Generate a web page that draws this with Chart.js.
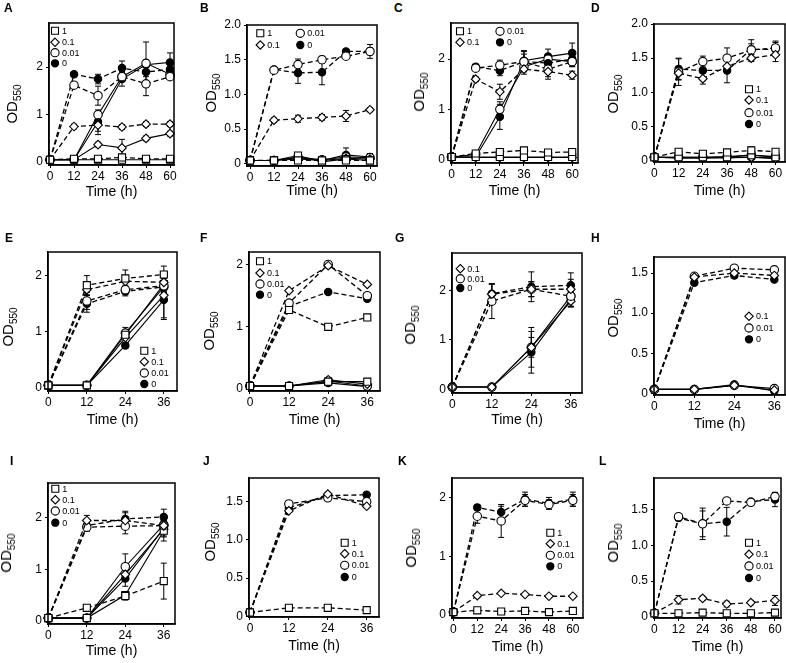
<!DOCTYPE html>
<html>
<head>
<meta charset="utf-8">
<script src="https://cdn.jsdelivr.net/npm/chart.js@4.4.1/dist/chart.umd.min.js"></script>
<style>
html, body { margin: 0; padding: 0; background: #fff; overflow: hidden; }
body { width: 786px; height: 663px; position: relative; font-family: "Liberation Sans", Arial, sans-serif; color: #000; }
canvas { position: absolute; }
.letter { position: absolute; font-weight: bold; font-size: 12px; transform: translateY(-50%); }
.ytitle { position: absolute; font-size: 15px; white-space: nowrap; transform: translate(-50%, -50%) rotate(-90deg); }
.ytitle sub { font-size: 10px; }
.xtitle { position: absolute; font-size: 14px; white-space: nowrap; transform: translate(-50%, -50%); }
</style>
</head>
<body>
<script>
// concentrations, in legend order: square, diamond, open circle, filled circle
const legendLabels = ["1", "0.1", "0.01", "0"];
const time60 = [0, 12, 24, 36, 48, 60];
const time36 = [0, 12, 24, 36];

// A
const aDashed = [
    [0.05, 0.07, 0.07, 0.10, 0.07, 0.07],
    [0.05, 0.75, 0.78, 0.74, 0.80, 0.80],
    [0.05, 1.62, 1.40, 1.80, 1.65, 1.80],
    [0.05, 1.85, 1.75, 1.98, 1.90, 1.95]
];
const aDashedErr = [
    [0, 0.02, 0.02, 0.05, 0.02, 0.02],
    [0, 0.05, 0.20, 0.05, 0.05, 0.05],
    [0, 0.05, 0.20, 0.10, 0.25, 0.05],
    [0, 0.05, 0.10, 0.15, 0.10, 0.10]
];
const aSolid = [
    [0.05, 0.05, 0.05, 0.05, 0.05, 0.05],
    [0.05, 0.05, 0.37, 0.30, 0.50, 0.60],
    [0.05, 0.05, 1.00, 1.80, 2.08, 1.85],
    [0.05, 0.05, 0.85, 1.75, 2.05, 2.10]
];
const aSolidErr = [
    [0, 0, 0, 0, 0, 0],
    [0, 0, 0.05, 0.18, 0.05, 0.05],
    [0, 0, 0.10, 0.10, 0.45, 0.10],
    [0, 0, 0.20, 0.15, 0.10, 0.20]
];

// B
const bDashed = [
    [0.05, 0.05, 0.05, 0.05, 0.05, 0.05],
    [0.05, 0.63, 0.65, 0.67, 0.69, 0.78],
    [0.05, 1.35, 1.43, 1.50, 1.55, 1.62],
    [0.05, 1.36, 1.31, 1.32, 1.62, 1.62]
];
const bDashedErr = [
    [0, 0.01, 0.01, 0.01, 0.01, 0.01],
    [0, 0.03, 0.05, 0.04, 0.08, 0.03],
    [0, 0.03, 0.08, 0.05, 0.03, 0.05],
    [0, 0.03, 0.15, 0.18, 0.03, 0.10]
];
const bSolid = [
    [0.05, 0.05, 0.12, 0.03, 0.07, 0.05],
    [0.05, 0.05, 0.07, 0.05, 0.08, 0.07],
    [0.05, 0.05, 0.10, 0.06, 0.10, 0.09],
    [0.05, 0.05, 0.09, 0.05, 0.13, 0.10]
];
const bSolidErr = [
    [0, 0.02, 0.03, 0.02, 0.04, 0.02],
    [0, 0, 0.02, 0.02, 0.03, 0.02],
    [0, 0, 0.02, 0.02, 0.04, 0.03],
    [0, 0, 0.03, 0.02, 0.10, 0.05]
];

// C
const cDashed = [
    [0.05, 0.12, 0.15, 0.18, 0.14, 0.15],
    [0.05, 1.60, 1.35, 1.80, 1.75, 1.68],
    [0.05, 1.82, 1.88, 1.95, 1.80, 1.95],
    [0.05, 1.85, 1.77, 1.95, 1.92, 2.00]
];
const cDashedErr = [
    [0, 0.02, 0.02, 0.03, 0.02, 0.02],
    [0, 0.05, 0.15, 0.10, 0.15, 0.08],
    [0, 0.05, 0.10, 0.20, 0.15, 0.10],
    [0, 0.05, 0.10, 0.15, 0.15, 0.10]
];
const cSolid = [
    [0.05, 0.05, 0.05, 0.05, 0.05, 0.05],
    [0.05, 0.04, 0.04, 0.04, 0.04, 0.04],
    [0.05, 0.10, 1.00, 1.85, 2.00, 1.95],
    [0.05, 0.05, 0.85, 1.97, 2.05, 2.12]
];
const cSolidErr = [
    [0, 0, 0, 0, 0, 0],
    [0, 0, 0, 0, 0, 0],
    [0, 0, 0.15, 0.10, 0.10, 0.10],
    [0, 0, 0.25, 0.20, 0.15, 0.20]
];

// D
const dDashed = [
    [0.05, 0.13, 0.10, 0.12, 0.15, 0.13],
    [0.05, 1.28, 1.20, 1.38, 1.50, 1.55],
    [0.05, 1.30, 1.45, 1.50, 1.62, 1.65],
    [0.05, 1.34, 1.32, 1.32, 1.63, 1.63]
];
const dDashedErr = [
    [0, 0.02, 0.02, 0.03, 0.05, 0.03],
    [0, 0.10, 0.08, 0.10, 0.05, 0.10],
    [0, 0.20, 0.08, 0.15, 0.15, 0.10],
    [0, 0.15, 0.15, 0.18, 0.08, 0.10]
];
const dSolid = [
    [0.05, 0.05, 0.05, 0.05, 0.08, 0.05],
    [0.05, 0.04, 0.04, 0.05, 0.05, 0.03],
    [0.05, 0.05, 0.05, 0.06, 0.08, 0.06],
    [0.05, 0.04, 0.04, 0.04, 0.05, 0.04]
];
const dSolidErr = [
    [0, 0.02, 0.02, 0.02, 0.04, 0.02],
    [0, 0, 0, 0, 0.02, 0],
    [0, 0, 0, 0.02, 0.03, 0.02],
    [0, 0, 0, 0, 0.02, 0]
];

// E
const eDashed = [
    [0.05, 1.83, 1.95, 2.02],
    [0.05, 1.75, 1.90, 1.88],
    [0.05, 1.55, 1.75, 1.82],
    [0.05, 1.50, 1.72, 1.80]
];
const eDashedErr = [
    [0, 0.17, 0.15, 0.15],
    [0, 0.10, 0.10, 0.10],
    [0, 0.15, 0.08, 0.08],
    [0, 0.15, 0.08, 0.08]
];
const eSolid = [
    [0.05, 0.05, 0.95, 1.85],
    [0.05, 0.05, 0.90, 1.65],
    [0.05, 0.05, 0.98, 1.80],
    [0.05, 0.05, 0.76, 1.57]
];
const eSolidErr = [
    [0, 0, 0.05, 0.10],
    [0, 0, 0.10, 0.40],
    [0, 0, 0.10, 0.10],
    [0, 0, 0.05, 0.35]
];

// F
const fDashed = [
    [0.05, 1.27, 1.00, 1.15],
    [0.05, 1.58, 1.98, 1.68],
    [0.05, 1.38, 2.00, 1.50],
    [0.05, 1.33, 1.56, 1.45]
];
const fDashedErr = [
    [0, 0.03, 0.02, 0.02],
    [0, 0.02, 0.02, 0.02],
    [0, 0.03, 0.02, 0.02],
    [0, 0.03, 0.02, 0.02]
];
const fSolid = [
    [0.05, 0.05, 0.12, 0.12],
    [0.05, 0.05, 0.15, 0.08],
    [0.05, 0.05, 0.13, 0.05],
    [0.05, 0.05, 0.10, 0.04]
];
const fSolidErr = [
    [0, 0, 0.03, 0.02],
    [0, 0, 0.03, 0.02],
    [0, 0, 0.03, 0.02],
    [0, 0, 0.03, 0.02]
];

// G (no square series)
const gDashed = [
    null,
    [0.05, 1.92, 2.02, 2.02],
    [0.05, 1.78, 2.02, 1.88],
    [0.05, 1.93, 2.07, 2.10]
];
const gDashedErr = [
    null,
    [0, 0.20, 0.15, 0.20],
    [0, 0.35, 0.15, 0.20],
    [0, 0.20, 0.30, 0.25]
];
const gSolid = [
    null,
    [0.05, 0.05, 0.85, 1.78],
    [0.05, 0.05, 0.85, 1.88],
    [0.05, 0.05, 0.75, 1.82]
];
const gSolidErr = [
    null,
    [0, 0, 0.40, 0.12],
    [0, 0, 0.20, 0.10],
    [0, 0, 0.42, 0.15]
];

// H (no square series)
const hDashed = [
    null,
    [0.05, 1.45, 1.50, 1.47],
    [0.05, 1.46, 1.56, 1.54],
    [0.05, 1.38, 1.47, 1.42]
];
const hDashedErr = [
    null,
    [0, 0.02, 0.03, 0.02],
    [0, 0.02, 0.02, 0.02],
    [0, 0.02, 0.03, 0.02]
];
const hSolid = [
    null,
    [0.05, 0.05, 0.10, 0.04],
    [0.05, 0.05, 0.10, 0.06],
    [0.05, 0.05, 0.11, 0.03]
];
const hSolidErr = [
    null,
    [0, 0, 0.02, 0.01],
    [0, 0, 0.02, 0.01],
    [0, 0, 0.02, 0.01]
];

// I
const iDashed = [
    [0.05, 0.25, 0.48, 0.77],
    [0.05, 1.95, 1.95, 1.85],
    [0.05, 1.82, 1.84, 1.85],
    [0.05, 1.85, 1.98, 2.02]
];
const iDashedErr = [
    [0, 0.03, 0.08, 0.35],
    [0, 0.10, 0.15, 0.10],
    [0, 0.08, 0.15, 0.20],
    [0, 0.10, 0.15, 0.15]
];
const iSolid = [
    [0.05, 0.05, 0.50, 1.75],
    [0.05, 0.05, 0.90, 1.78],
    [0.05, 0.05, 1.05, 1.87],
    [0.05, 0.05, 0.82, 1.80]
];
const iSolidErr = [
    [0, 0, 0.05, 0.20],
    [0, 0, 0.10, 0.15],
    [0, 0, 0.25, 0.10],
    [0, 0, 0.15, 0.10]
];

// J
const jDashed = [
    [0.05, 0.11, 0.11, 0.08],
    [0.05, 1.38, 1.60, 1.44],
    [0.05, 1.47, 1.55, 1.50],
    [0.05, 1.42, 1.58, 1.59]
];
const jDashedErr = [
    [0, 0.01, 0.01, 0.01],
    [0, 0.02, 0.02, 0.02],
    [0, 0.02, 0.02, 0.02],
    [0, 0.02, 0.02, 0.02]
];

// K
const kDashed = [
    [0.05, 0.08, 0.06, 0.07, 0.05, 0.07],
    [0.05, 0.33, 0.37, 0.35, 0.32, 0.32],
    [0.05, 1.68, 1.60, 1.95, 1.88, 1.95],
    [0.05, 1.83, 1.75, 1.97, 1.90, 1.97]
];
const kDashedErr = [
    [0, 0.01, 0.01, 0.01, 0.01, 0.01],
    [0, 0.02, 0.02, 0.02, 0.02, 0.02],
    [0, 0.12, 0.28, 0.10, 0.08, 0.10],
    [0, 0.05, 0.10, 0.12, 0.10, 0.12]
];

// L
const lDashed = [
    [0.05, 0.05, 0.06, 0.05, 0.05, 0.06],
    [0.05, 0.24, 0.26, 0.18, 0.20, 0.23],
    [0.05, 1.40, 1.30, 1.62, 1.60, 1.68],
    [0.05, 1.38, 1.30, 1.33, 1.61, 1.64]
];
const lDashedErr = [
    [0, 0.01, 0.01, 0.01, 0.01, 0.01],
    [0, 0.06, 0.03, 0.04, 0.03, 0.07],
    [0, 0.02, 0.22, 0.03, 0.03, 0.05],
    [0, 0.02, 0.18, 0.20, 0.03, 0.10]
];

// marker look for each concentration
const styles = [
    { style: "rect", r: 5, fill: "#fff" },
    { style: "rectRot", r: 4.3, fill: "#fff" },
    { style: "circle", r: 4.2, fill: "#fff" },
    { style: "circle", r: 3.7, fill: "#000" }
];

function drawMarker(ctx, k, x, y) {
    ctx.beginPath();
    if (k === 0) {
        ctx.rect(x - 3.5, y - 3.5, 7, 7);
    } else if (k === 1) {
        ctx.moveTo(x, y - 4.2); ctx.lineTo(x + 4.2, y); ctx.lineTo(x, y + 4.2); ctx.lineTo(x - 4.2, y);
        ctx.closePath();
    } else {
        ctx.arc(x, y, k === 3 ? 3.6 : 4.1, 0, Math.PI * 2);
    }
    ctx.fillStyle = k === 3 ? "#000" : "#fff";
    ctx.fill();
    ctx.lineWidth = 1.1;
    ctx.strokeStyle = "#000";
    ctx.stroke();
}

const errorBars = {
    id: "errorBars",
    beforeDatasetsDraw(chart) {
        const ctx = chart.ctx;
        const xs = chart.scales.x, ys = chart.scales.y;
        ctx.save();
        ctx.strokeStyle = "#000";
        ctx.lineWidth = 1;
        chart.data.datasets.forEach(ds => {
            if (!ds.err) return;
            ds.data.forEach((p, j) => {
                const e = ds.err[j];
                if (!e) return;
                const x = xs.getPixelForValue(p.x);
                const y1 = ys.getPixelForValue(p.y - e);
                const y2 = ys.getPixelForValue(p.y + e);
                ctx.beginPath();
                ctx.moveTo(x, y1); ctx.lineTo(x, y2);
                ctx.moveTo(x - 3, y1); ctx.lineTo(x + 3, y1);
                ctx.moveTo(x - 3, y2); ctx.lineTo(x + 3, y2);
                ctx.stroke();
            });
        });
        ctx.restore();
    }
};

const frameAndLegend = {
    id: "frameAndLegend",
    afterDraw(chart) {
        const ctx = chart.ctx;
        const a = chart.chartArea;
        ctx.save();
        ctx.strokeStyle = "#000";
        ctx.lineWidth = 1.5;
        ctx.strokeRect(a.left, a.top, a.right - a.left, a.bottom - a.top);
        const lg = chart.options.plugins.frameAndLegend.items;
        ctx.font = "9px 'Liberation Sans', Arial, sans-serif";
        ctx.textBaseline = "middle";
        lg.forEach(it => {
            const x = a.left + it[1], y = a.top + it[2];
            drawMarker(ctx, it[0], x, y);
            ctx.fillStyle = "#000";
            ctx.fillText(legendLabels[it[0]], x + 7, y + 0.5);
        });
        ctx.restore();
    }
};

function buildSets(times, rows, errs, dashed) {
    const sets = [];
    if (!rows) return sets;
    rows.forEach((vals, k) => {
        if (!vals) return;
        sets.push({
            data: vals.map((v, j) => ({ x: times[j], y: v })),
            err: errs ? errs[k] : null,
            borderColor: "#000",
            borderWidth: dashed ? 1.3 : 1.1,
            borderDash: dashed ? [5, 3] : [],
            pointStyle: styles[k].style,
            pointRadius: styles[k].r,
            pointHoverRadius: styles[k].r,
            pointBackgroundColor: styles[k].fill,
            pointBorderColor: "#000",
            pointBorderWidth: 1.1,
            tension: 0,
            fill: false,
            clip: false
        });
    });
    return sets;
}

const AXW = 45, AXH = 30, PADT = 12, PADR = 15;

function makePanel(p) {
    const w = p.box[2] - p.box[0], h = p.box[3] - p.box[1];
    const canvas = document.createElement("canvas");
    canvas.width = w + AXW + PADR;
    canvas.height = h + AXH + PADT;
    canvas.style.left = (p.box[0] - AXW) + "px";
    canvas.style.top = (p.box[1] - PADT) + "px";
    document.body.appendChild(canvas);

    const letter = document.createElement("div");
    letter.className = "letter";
    letter.textContent = p.name;
    letter.style.left = p.letter[0] + "px";
    letter.style.top = p.letter[1] + "px";
    document.body.appendChild(letter);

    const yt = document.createElement("div");
    yt.className = "ytitle";
    yt.innerHTML = "OD<sub>550</sub>";
    yt.style.left = p.ytitle[0] + "px";
    yt.style.top = p.ytitle[1] + "px";
    document.body.appendChild(yt);

    const xt = document.createElement("div");
    xt.className = "xtitle";
    xt.textContent = "Time (h)";
    xt.style.left = (p.box[0] + w / 2) + "px";
    xt.style.top = (p.box[3] + p.xtitleDy) + "px";
    document.body.appendChild(xt);

    const datasets = buildSets(p.times, p.dashed, p.dashedErr, true)
        .concat(buildSets(p.times, p.solid, p.solidErr, false));

    const tickFont = { family: "'Liberation Sans', Arial, sans-serif", size: 12 };

    new Chart(canvas.getContext("2d"), {
        type: "line",
        data: { datasets: datasets },
        options: {
            responsive: false,
            animation: false,
            events: [],
            layout: { padding: { top: PADT, right: PADR, left: 0, bottom: 0 } },
            plugins: {
                legend: { display: false },
                tooltip: { enabled: false },
                frameAndLegend: { items: p.legend }
            },
            scales: {
                x: {
                    type: "linear",
                    min: p.xr[0], max: p.xr[1],
                    afterFit: s => { s.height = AXH; },
                    ticks: { stepSize: 12, includeBounds: false, color: "#000", font: tickFont, padding: 1, maxRotation: 0, autoSkip: false },
                    grid: { drawOnChartArea: false, drawTicks: true, tickLength: 3, color: "#000" },
                    border: { display: true, color: "#000", width: 1.5 }
                },
                y: {
                    type: "linear",
                    min: p.yr[0], max: p.yr[1],
                    afterFit: s => { s.width = AXW; },
                    ticks: {
                        stepSize: p.ystep, includeBounds: false, color: "#000", font: tickFont, padding: 3,
                        callback: v => (p.ystep < 1 ? (v === 0 ? "0" : v.toFixed(1)) : String(v))
                    },
                    grid: { drawOnChartArea: false, drawTicks: true, tickLength: 3, color: "#000" },
                    border: { display: true, color: "#000", width: 1.5 }
                }
            }
        },
        plugins: [errorBars, frameAndLegend]
    });
}

const panels = [
    { name: "A", letter: [4, 8], box: [49, 23, 174, 165], xr: [-0.5, 62], yr: [-0.06, 2.93], ystep: 1, times: time60,
      dashed: aDashed, dashedErr: aDashedErr, solid: aSolid, solidErr: aSolidErr, ytitle: [13, 104], xtitleDy: 26,
      legend: [[0, 6, 7.7], [1, 6, 19.3], [2, 6, 29.7], [3, 6, 40.3]] },
    { name: "B", letter: [200, 8], box: [247, 25, 377, 166], xr: [-1.5, 63.5], yr: [-0.03, 2.0], ystep: 0.5, times: time60,
      dashed: bDashed, dashedErr: bDashedErr, solid: bSolid, solidErr: bSolidErr, ytitle: [212, 93], xtitleDy: 24,
      legend: [[0, 13.3, 8.3], [1, 13.3, 20], [2, 53.3, 8.3], [3, 53.3, 20]] },
    { name: "C", letter: [394, 8], box: [451, 23, 578, 163], xr: [-0.3, 62.9], yr: [-0.07, 2.72], ystep: 1, times: time60,
      dashed: cDashed, dashedErr: cDashedErr, solid: cSolid, solidErr: cSolidErr, ytitle: [420, 92], xtitleDy: 27,
      legend: [[0, 9, 8.3], [1, 9, 19.3], [2, 49, 8.3], [3, 49, 19.3]] },
    { name: "D", letter: [591, 8], box: [654, 24, 785, 162], xr: [-0.2, 64.7], yr: [-0.02, 2.0], ystep: 0.5, times: time60,
      dashed: dDashed, dashedErr: dDashedErr, solid: dSolid, solidErr: dSolidErr, ytitle: [614, 94], xtitleDy: 28,
      legend: [[0, 95, 65.3], [1, 95, 76], [2, 95, 88.7], [3, 95, 100]] },

    { name: "E", letter: [5, 238], box: [48, 252, 177, 391], xr: [-0.1, 40.1], yr: [-0.05, 2.42], ystep: 1, times: time36,
      dashed: eDashed, dashedErr: eDashedErr, solid: eSolid, solidErr: eSolidErr, ytitle: [9, 327], xtitleDy: 28,
      legend: [[0, 96.3, 98.7], [1, 96.3, 109.7], [2, 96.3, 121], [3, 96.3, 132]] },
    { name: "F", letter: [200, 238], box: [249, 252, 380, 391], xr: [-0.3, 39.9], yr: [-0.03, 2.2], ystep: 1, times: time36,
      dashed: fDashed, dashedErr: fDashedErr, solid: fSolid, solidErr: fSolidErr, ytitle: [210, 331], xtitleDy: 28,
      legend: [[0, 11, 9.3], [1, 11, 21], [2, 11, 32], [3, 11, 42.7]] },
    { name: "G", letter: [395, 238], box: [452, 253, 582, 393], xr: [-0.1, 39.4], yr: [-0.07, 2.75], ystep: 1, times: time36,
      dashed: gDashed, dashedErr: gDashedErr, solid: gSolid, solidErr: gSolidErr, ytitle: [411, 325], xtitleDy: 26,
      legend: [[1, 8.3, 15.7], [2, 8.3, 25.7], [3, 8.3, 35]] },
    { name: "H", letter: [591, 238], box: [654, 257, 785, 395], xr: [-0.1, 39.2], yr: [-0.02, 1.70], ystep: 0.5, times: time36,
      dashed: hDashed, dashedErr: hDashedErr, solid: hSolid, solidErr: hSolidErr, ytitle: [614, 318], xtitleDy: 28,
      legend: [[1, 95, 59.3], [2, 95, 71], [3, 95, 82.3]] },

    { name: "I", letter: [10, 461], box: [48, 483, 175, 624], xr: [-0.1, 39.5], yr: [-0.065, 2.68], ystep: 1, times: time36,
      dashed: iDashed, dashedErr: iDashedErr, solid: iSolid, solidErr: iSolidErr, ytitle: [7, 553], xtitleDy: 26,
      legend: [[0, 7.3, 5.7], [1, 7.3, 16.7], [2, 7.3, 28], [3, 7.3, 39.7]] },
    { name: "J", letter: [203, 461], box: [249, 478, 379, 617], xr: [-0.3, 39.8], yr: [-0.01, 1.81], ystep: 0.5, times: time36,
      dashed: jDashed, dashedErr: jDashedErr, solid: null, solidErr: null, ytitle: [211, 542], xtitleDy: 28,
      legend: [[0, 95.7, 64.7], [1, 95.7, 75.7], [2, 95.7, 87.3], [3, 95.7, 99]] },
    { name: "K", letter: [398, 461], box: [452, 478, 583, 618], xr: [-0.7, 65.1], yr: [-0.05, 2.33], ystep: 1, times: time60,
      dashed: kDashed, dashedErr: kDashedErr, solid: null, solidErr: null, ytitle: [412, 548], xtitleDy: 28,
      legend: [[0, 98.3, 54.7], [1, 98.3, 65.7], [2, 98.3, 77.3], [3, 98.3, 88.3]] },
    { name: "L", letter: [599, 461], box: [654, 478, 781, 618], xr: [-0.2, 63.0], yr: [-0.015, 1.94], ystep: 0.5, times: time60,
      dashed: lDashed, dashedErr: lDashedErr, solid: null, solidErr: null, ytitle: [614, 543], xtitleDy: 28,
      legend: [[0, 95, 64.7], [1, 95, 76.3], [2, 95, 88], [3, 95, 100]] }
];

panels.forEach(makePanel);
</script>
</body>
</html>
